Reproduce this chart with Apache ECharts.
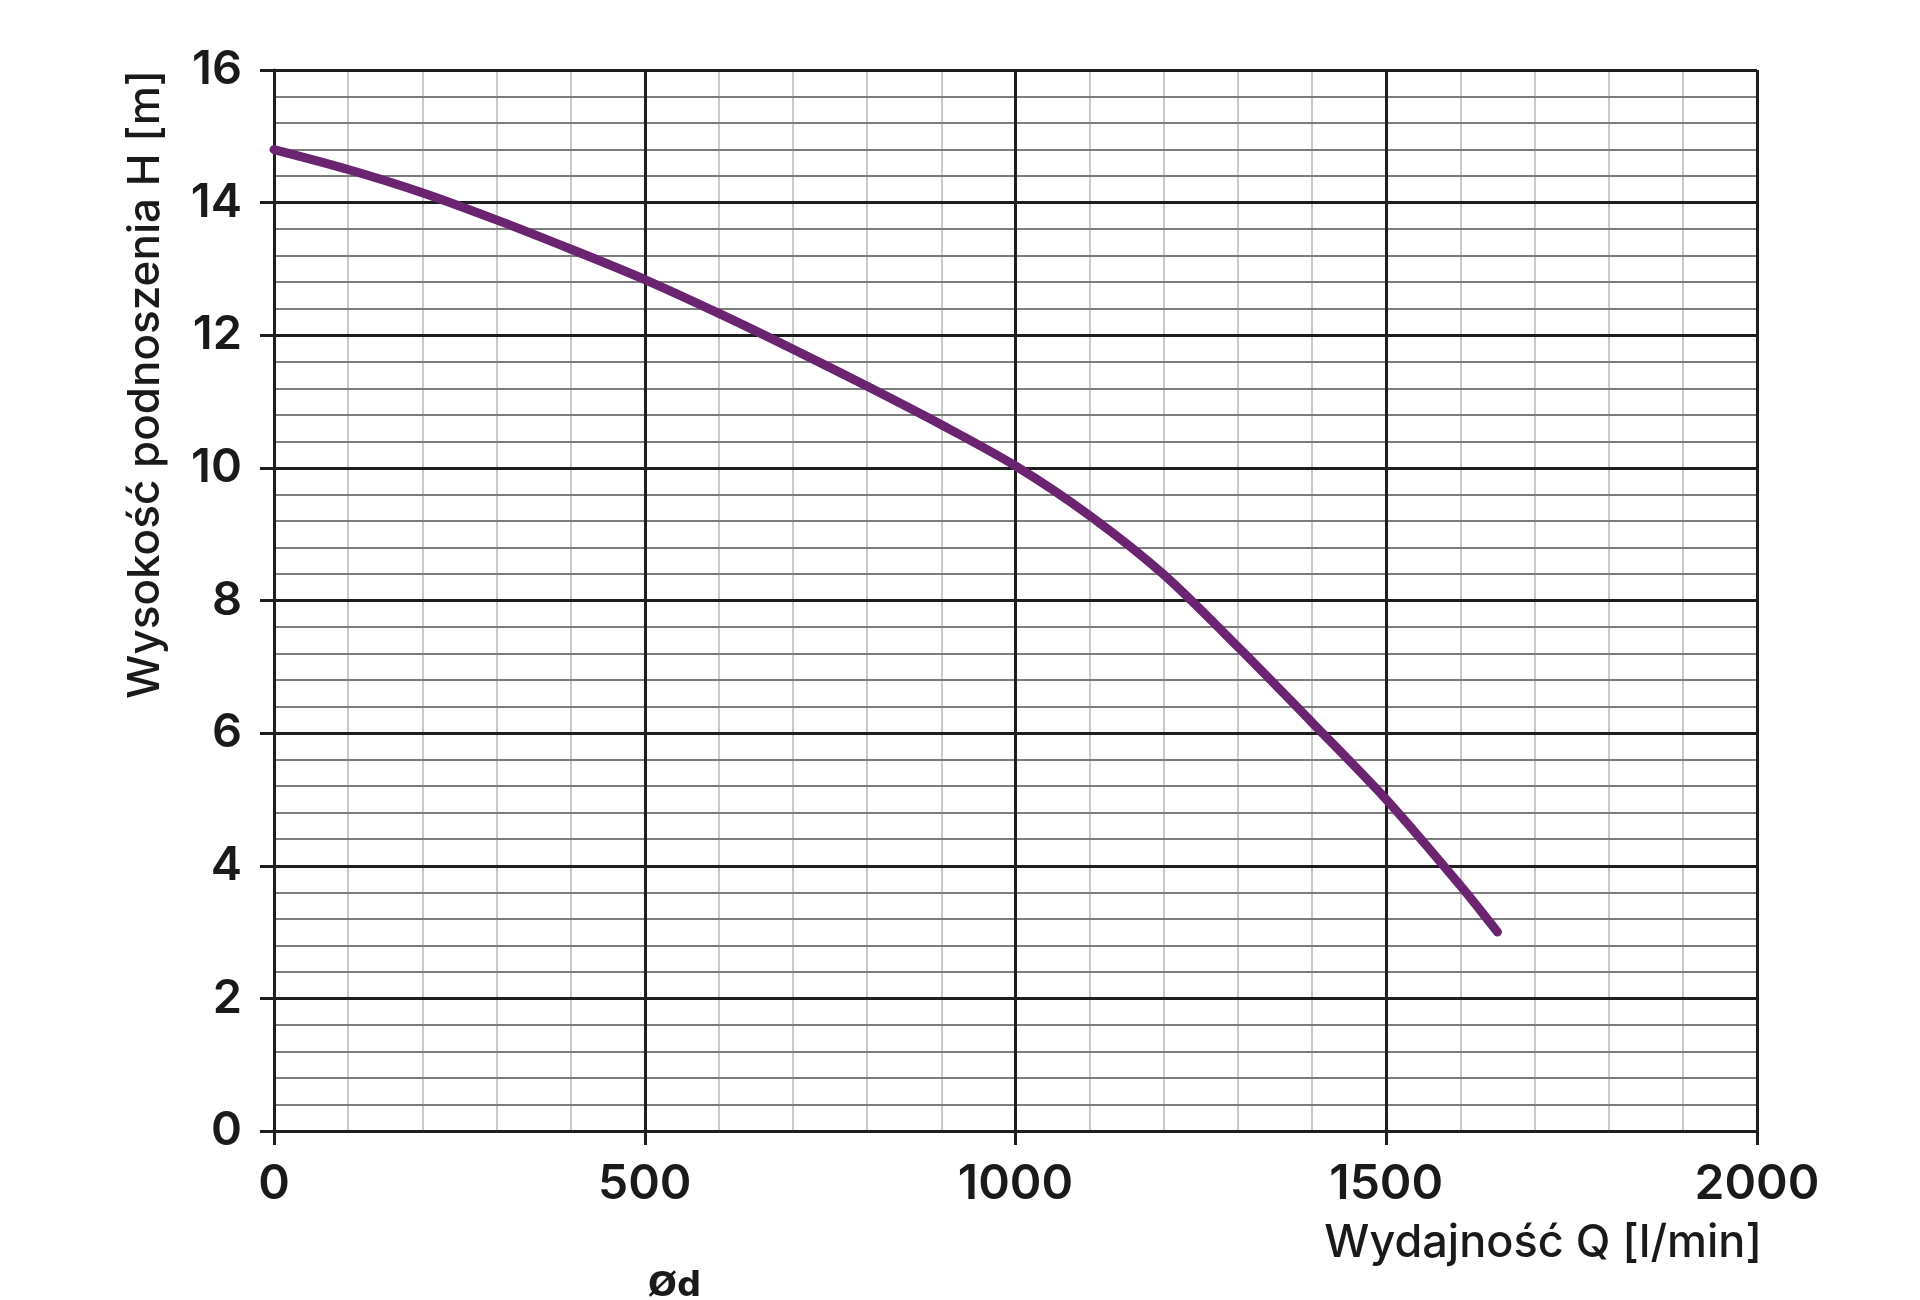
<!DOCTYPE html>
<html>
<head>
<meta charset="utf-8">
<script src="https://cdn.jsdelivr.net/npm/echarts@6/dist/echarts.min.js"></script>
<style>html,body{margin:0;padding:0;background:#fff}#c{width:1920px;height:1300px}</style>
</head>
<body>
<div id="c"></div>
<script>
// Data: flow Q [l/min] vs head H [m]
const flowQ = [0, 100, 200, 300, 400, 500, 600, 700, 800, 900, 1000, 1100, 1200, 1300, 1400, 1500, 1600, 1650];
const headH = [14.8, 14.5, 14.15, 13.74, 13.3, 12.84, 12.33, 11.79, 11.23, 10.65, 10.03, 9.28, 8.39, 7.3, 6.16, 5.0, 3.7, 3.0];
const xTitle = 'Wydajność Q [l/min]';
const yTitle = 'Wysokość podnoszenia H [m]';
const noteText = 'Ød';

const FONT = 'Inter';
const chart = echarts.init(document.getElementById('c'));
const xBase = { type: 'value', min: 0, max: 2000, interval: 500, position: 'bottom' };
const yBase = { type: 'value', min: 0, max: 16, interval: 2, position: 'left' };

chart.setOption({
  animation: false,
  backgroundColor: '#ffffff',
  grid: { left: 274, top: 70, right: 163, bottom: 169, containLabel: false },
  xAxis: [
    Object.assign({}, xBase, {
      z: 0,
      axisLine: { show: false }, axisTick: { show: false }, axisLabel: { show: false },
      splitLine: { show: false },
      minorTick: { show: false, splitNumber: 5 },
      minorSplitLine: { show: true, lineStyle: { color: '#c9c9c9', width: 2 } }
    }),
    Object.assign({}, xBase, {
      z: 3,
      axisLine: { show: true, lineStyle: { color: '#1e1e1e', width: 3 } },
      axisTick: { show: true, length: 14, lineStyle: { color: '#1e1e1e', width: 3 } },
      axisLabel: { show: true, margin: 30, color: '#1a1a1a', fontFamily: FONT, fontSize: 48, fontWeight: 600,
        formatter: v => String(v) },
      splitLine: { show: true, lineStyle: { color: '#1e1e1e', width: 3 } }
    })
  ],
  yAxis: [
    Object.assign({}, yBase, {
      z: 1,
      axisLine: { show: false }, axisTick: { show: false }, axisLabel: { show: false },
      splitLine: { show: false },
      minorTick: { show: false, splitNumber: 5 },
      minorSplitLine: { show: true, lineStyle: { color: '#7d7d7d', width: 2 } }
    }),
    Object.assign({}, yBase, {
      z: 3,
      axisLine: { show: true, lineStyle: { color: '#1e1e1e', width: 3 } },
      axisTick: { show: true, length: 14, lineStyle: { color: '#1e1e1e', width: 3 } },
      axisLabel: { show: true, margin: 32, color: '#1a1a1a', fontFamily: FONT, fontSize: 47, fontWeight: 600,
        formatter: v => String(v) },
      splitLine: { show: true, lineStyle: { color: '#1e1e1e', width: 3 } }
    })
  ],
  series: [{
    type: 'line',
    xAxisIndex: 0, yAxisIndex: 0,
    z: 5,
    data: flowQ.map((q, i) => [q, headH[i]]),
    smooth: 0.3,
    showSymbol: false,
    symbol: 'none',
    lineStyle: { color: '#6a2470', width: 9, cap: 'round' }
  }],
  graphic: [
    { type: 'text', x: 1762, y: 1243, z: 10,
      style: { text: xTitle, fill: '#1a1a1a', font: '500 45px Inter', textAlign: 'right', textVerticalAlign: 'middle' } },
    { type: 'text', x: 146, y: 70, rotation: Math.PI / 2, z: 10,
      style: { text: yTitle, fill: '#1a1a1a', font: '500 44px Inter', textAlign: 'right', textVerticalAlign: 'middle' } },
    { type: 'text', x: 648, y: 1270, z: 10,
      style: { text: noteText, fill: '#1a1a1a', font: 'bold 34px "DejaVu Sans"', textAlign: 'left', textVerticalAlign: 'top' } }
  ]
});
</script>
</body>
</html>
